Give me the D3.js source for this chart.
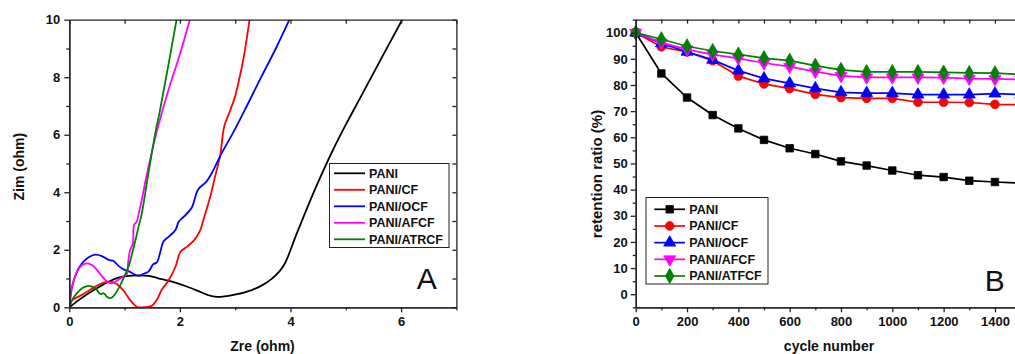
<!DOCTYPE html>
<html>
<head>
<meta charset="utf-8">
<script src="https://cdn.jsdelivr.net/npm/d3@7"></script>
<style>
  body { margin: 0; background: #fff; }
  svg { display: block; font-family: "Liberation Sans", Arial, sans-serif; }
  .axis text { font-size: 13px; font-weight: bold; fill: #111; }
  .axis path, .axis line { stroke: #222; stroke-width: 1.3; }
</style>
</head>
<body>
<svg width="1015" height="354"></svg>
<script>
// ---- panel A: Nyquist plot, [Zre, Zim] pairs in ohm
const eisPANI = [[0,0],[0.17,0.25],[0.35,0.49],[0.53,0.7],[0.71,0.89],[0.89,1.03],[1.07,1.09],[1.25,1.11],[1.43,1.09],[1.67,0.98],[1.86,0.89],[2.1,0.74],[2.34,0.56],[2.5,0.43],[2.67,0.36],[2.97,0.43],[3.3,0.6],[3.5,0.78],[3.66,0.99],[3.8,1.25],[3.9,1.53],[4.1,2.5],[4.3,3.45],[4.5,4.35],[4.75,5.4],[5.0,6.35],[5.3,7.42],[5.65,8.68],[6.02,10]];
const eisCF = [[0,0],[0.05,0.25],[0.17,0.37],[0.32,0.54],[0.47,0.72],[0.62,0.86],[0.74,0.89],[0.86,0.81],[0.98,0.58],[1.1,0.25],[1.22,0.02],[1.31,0],[1.49,0.05],[1.58,0.25],[1.67,0.6],[1.8,0.95],[1.92,1.41],[2.01,1.93],[2.13,2.11],[2.25,2.32],[2.36,2.65],[2.45,3.2],[2.55,3.85],[2.63,4.5],[2.73,5.3],[2.8,6.28],[2.9,6.8],[3.0,7.35],[3.08,8.0],[3.15,8.65],[3.26,10]];
const eisOCF = [[0,0],[0.02,0.35],[0.05,0.72],[0.14,1.24],[0.23,1.53],[0.35,1.74],[0.47,1.83],[0.59,1.78],[0.71,1.65],[0.8,1.61],[0.89,1.44],[0.98,1.32],[1.07,1.26],[1.16,1.16],[1.25,1.09],[1.34,1.16],[1.43,1.24],[1.52,1.5],[1.58,1.55],[1.64,1.88],[1.7,2.28],[1.8,2.46],[1.92,2.69],[1.98,2.98],[2.07,3.15],[2.21,3.45],[2.33,4.1],[2.48,4.37],[2.6,4.75],[2.74,5.3],[2.97,6.1],[3.21,7.0],[3.47,8.0],[3.75,9.06],[3.98,10]];
const eisAFCF = [[0,0],[0.02,0.35],[0.05,0.72],[0.14,1.24],[0.23,1.47],[0.32,1.53],[0.41,1.47],[0.5,1.3],[0.62,1.01],[0.74,0.83],[0.83,0.89],[0.95,1.04],[1.04,1.16],[1.06,1.5],[1.08,1.8],[1.1,1.99],[1.15,2.22],[1.17,2.86],[1.22,2.98],[1.26,3.3],[1.31,3.73],[1.4,4.6],[1.58,6.1],[1.8,7.6],[2.0,8.8],[2.18,10]];
const eisATRCF = [[0,0],[0.05,0.25],[0.14,0.49],[0.23,0.66],[0.32,0.74],[0.41,0.72],[0.47,0.66],[0.5,0.6],[0.56,0.46],[0.62,0.49],[0.68,0.37],[0.74,0.32],[0.8,0.39],[0.89,0.66],[0.98,1.01],[1.07,1.41],[1.16,2.05],[1.25,2.78],[1.31,3.25],[1.4,4.3],[1.55,6.0],[1.64,6.85],[1.78,8.3],[1.94,10]];

// ---- panel B: retention ratio (%) vs cycle number
const cycles = [0,100,200,300,400,500,600,700,800,900,1000,1100,1200,1300,1400,1500];
const retPANI  = [100,84.4,75.2,68.5,63.4,59.0,55.8,53.6,50.8,49.2,47.3,45.5,44.8,43.4,42.9,42.5];
const retCF    = [100,94.6,92.6,89.3,83.4,80.4,78.6,76.4,75.2,74.9,74.9,73.4,73.4,73.3,72.6,72.5];
const retOCF   = [100,95.9,92.7,89.6,85.5,82.5,80.6,78.7,77.2,76.9,76.9,76.3,76.3,76.3,76.7,76.3];
const retAFCF  = [100,96.2,93.6,91.6,90.2,88.4,87.0,85.1,83.5,82.9,82.9,82.9,82.8,82.4,82.3,82.1];
const retATFCF = [100,97.5,94.8,93.0,91.7,90.3,89.3,87.4,85.8,85.0,85.0,85.0,84.8,84.6,84.5,84.1];

const namesA = ["PANI","PANI/CF","PANI/OCF","PANI/AFCF","PANI/ATRCF"];
const namesB = ["PANI","PANI/CF","PANI/OCF","PANI/AFCF","PANI/ATFCF"];
const colors = ["#000000","#ff0000","#0000ff","#ff00ff","#008000"];
const symbols = [d3.symbolSquare, d3.symbolCircle, d3.symbolTriangle, d3.symbolTriangle, d3.symbolDiamond];

const svg = d3.select("svg");

// ================= panel A =================
const xA = d3.scaleLinear().domain([0, 7]).range([69.3, 456.4]);
const yA = d3.scaleLinear().domain([0, 10]).range([307.3, 19.7]);

svg.append("clipPath").attr("id", "clipA").append("rect")
  .attr("x", xA(0)).attr("y", yA(10)).attr("width", xA(7) - xA(0)).attr("height", yA(0) - yA(10));

const gA = svg.append("g");

const lineA = d3.line().x(d => xA(d[0])).y(d => yA(d[1])).curve(d3.curveCatmullRom.alpha(0.5));
[eisPANI, eisCF, eisOCF, eisAFCF, eisATRCF].forEach((s, i) => {
  gA.append("path")
    .datum(s)
    .attr("clip-path", "url(#clipA)")
    .attr("fill", "none")
    .attr("stroke", colors[i])
    .attr("stroke-width", 1.8)
    .attr("stroke-linejoin", "round")
    .attr("d", lineA);
});

// axes A
gA.append("g").attr("class", "axis").attr("transform", "translate(0," + yA(0) + ")")
  .call(d3.axisBottom(xA).tickValues([1,3,5,7]).tickSize(3).tickSizeOuter(0).tickFormat(""));
gA.append("g").attr("class", "axis").attr("transform", "translate(0," + yA(0) + ")")
  .call(d3.axisBottom(xA).tickValues([0,2,4,6]).tickSize(5).tickSizeOuter(0).tickPadding(4).tickFormat(d3.format("d")));
gA.append("g").attr("class", "axis").attr("transform", "translate(0," + yA(10) + ")")
  .call(d3.axisTop(xA).tickValues(d3.range(0, 8)).tickSize(-4).tickSizeOuter(0).tickFormat(""));
gA.append("g").attr("class", "axis").attr("transform", "translate(" + xA(0) + ",0)")
  .call(d3.axisLeft(yA).tickValues(d3.range(1, 10, 2)).tickSize(3).tickSizeOuter(0).tickFormat(""));
gA.append("g").attr("class", "axis").attr("transform", "translate(" + xA(0) + ",0)")
  .call(d3.axisLeft(yA).tickValues(d3.range(0, 11, 2)).tickSize(5).tickSizeOuter(0).tickPadding(4).tickFormat(d3.format("d")));
gA.append("g").attr("class", "axis").attr("transform", "translate(" + xA(7) + ",0)")
  .call(d3.axisRight(yA).tickValues(d3.range(0, 11)).tickSize(-4).tickSizeOuter(0).tickFormat(""));

gA.append("text").attr("x", 262.5).attr("y", 350.5)
  .attr("text-anchor", "middle").attr("font-size", 14).attr("font-weight", "bold").attr("fill", "#111")
  .text("Zre (ohm)");
gA.append("text").attr("transform", "translate(24,166.7) rotate(-90)")
  .attr("text-anchor", "middle").attr("font-size", 14).attr("font-weight", "bold").attr("fill", "#111")
  .text("Zim (ohm)");
gA.append("text").attr("x", 426.7).attr("y", 288.5)
  .attr("text-anchor", "middle").attr("font-size", 30).attr("fill", "#111")
  .text("A");

// legend A
const legA = gA.append("g");
legA.append("rect").attr("x", 329.5).attr("y", 163.5).attr("width", 119.5).attr("height", 84)
  .attr("fill", "#fff").attr("stroke", "#222").attr("stroke-width", 1);
namesA.forEach((n, i) => {
  const yy = 173.3 + i * 16.5;
  legA.append("line").attr("x1", 334).attr("x2", 365).attr("y1", yy).attr("y2", yy)
    .attr("stroke", colors[i]).attr("stroke-width", 1.8);
  legA.append("text").attr("x", 369).attr("y", yy + 4.5)
    .attr("font-size", 12.5).attr("font-weight", "bold").attr("fill", "#111").text(n);
});

// ================= panel B =================
const xB = d3.scaleLinear().domain([0, 1500]).range([635.7, 1020.6]);
const yB = d3.scaleLinear().domain([-5, 105]).range([307.3, 19.6]);

const gB = svg.append("g");
const seriesB = [retPANI, retCF, retOCF, retAFCF, retATFCF];

const lineB = d3.line().x(d => xB(d[0])).y(d => yB(d[1]));
const markerSize = [56, 60, 62, 62, 64];

function drawSymbol(g, i, cx, cy) {
  g.append("path")
    .attr("d", d3.symbol().type(symbols[i]).size(markerSize[i]))
    .attr("transform", "translate(" + cx + "," + cy + ")" + (i === 3 ? " rotate(180)" : ""))
    .attr("fill", colors[i])
    .attr("stroke", colors[i])
    .attr("stroke-width", 0.8);
}

seriesB.forEach((s, i) => {
  const pts = cycles.map((c, k) => [c, s[k]]);
  gB.append("path")
    .datum(pts)
    .attr("fill", "none")
    .attr("stroke", colors[i])
    .attr("stroke-width", 1.7)
    .attr("stroke-linejoin", "round")
    .attr("d", lineB);
  pts.forEach(p => drawSymbol(gB, i, xB(p[0]), yB(p[1])));
});

// axes B
gB.append("g").attr("class", "axis").attr("transform", "translate(0," + yB(-5) + ")")
  .call(d3.axisBottom(xB).tickValues(d3.range(100, 1600, 200)).tickSize(3).tickSizeOuter(0).tickFormat(""));
gB.append("g").attr("class", "axis").attr("transform", "translate(0," + yB(-5) + ")")
  .call(d3.axisBottom(xB).tickValues(d3.range(0, 1500, 200)).tickSize(5).tickSizeOuter(0).tickPadding(4).tickFormat(d3.format("d")));
gB.append("g").attr("class", "axis").attr("transform", "translate(0," + yB(105) + ")")
  .call(d3.axisTop(xB).tickValues(d3.range(0, 1600, 100)).tickSize(-4).tickSizeOuter(0).tickFormat(""));
gB.append("g").attr("class", "axis").attr("transform", "translate(" + xB(0) + ",0)")
  .call(d3.axisLeft(yB).tickValues(d3.range(-5, 106, 10)).tickSize(3).tickSizeOuter(0).tickFormat(""));
gB.append("g").attr("class", "axis").attr("transform", "translate(" + xB(0) + ",0)")
  .call(d3.axisLeft(yB).tickValues(d3.range(0, 101, 10)).tickSize(5).tickSizeOuter(0).tickPadding(3).tickFormat(d3.format("d")));

gB.append("text").attr("x", 829).attr("y", 351)
  .attr("text-anchor", "middle").attr("font-size", 14).attr("font-weight", "bold").attr("fill", "#111")
  .text("cycle number");
gB.append("text").attr("transform", "translate(602,174) rotate(-90)")
  .attr("text-anchor", "middle").attr("font-size", 15).attr("font-weight", "bold").attr("fill", "#111")
  .text("retention ratio (%)");
gB.append("text").attr("x", 994.7).attr("y", 290.7)
  .attr("text-anchor", "middle").attr("font-size", 30).attr("fill", "#111")
  .text("B");

// legend B
const legB = gB.append("g");
legB.append("rect").attr("x", 646).attr("y", 197.5).attr("width", 122).attr("height", 86.5)
  .attr("fill", "#fff").attr("stroke", "#222").attr("stroke-width", 1);
namesB.forEach((n, i) => {
  const yy = 209.3 + i * 16.67;
  legB.append("line").attr("x1", 654.3).attr("x2", 685).attr("y1", yy).attr("y2", yy)
    .attr("stroke", colors[i]).attr("stroke-width", 1.7);
  drawSymbol(legB, i, 669.7, yy);
  legB.append("text").attr("x", 689.3).attr("y", yy + 4.5)
    .attr("font-size", 12.5).attr("font-weight", "bold").attr("fill", "#111").text(n);
});
</script>
</body>
</html>
